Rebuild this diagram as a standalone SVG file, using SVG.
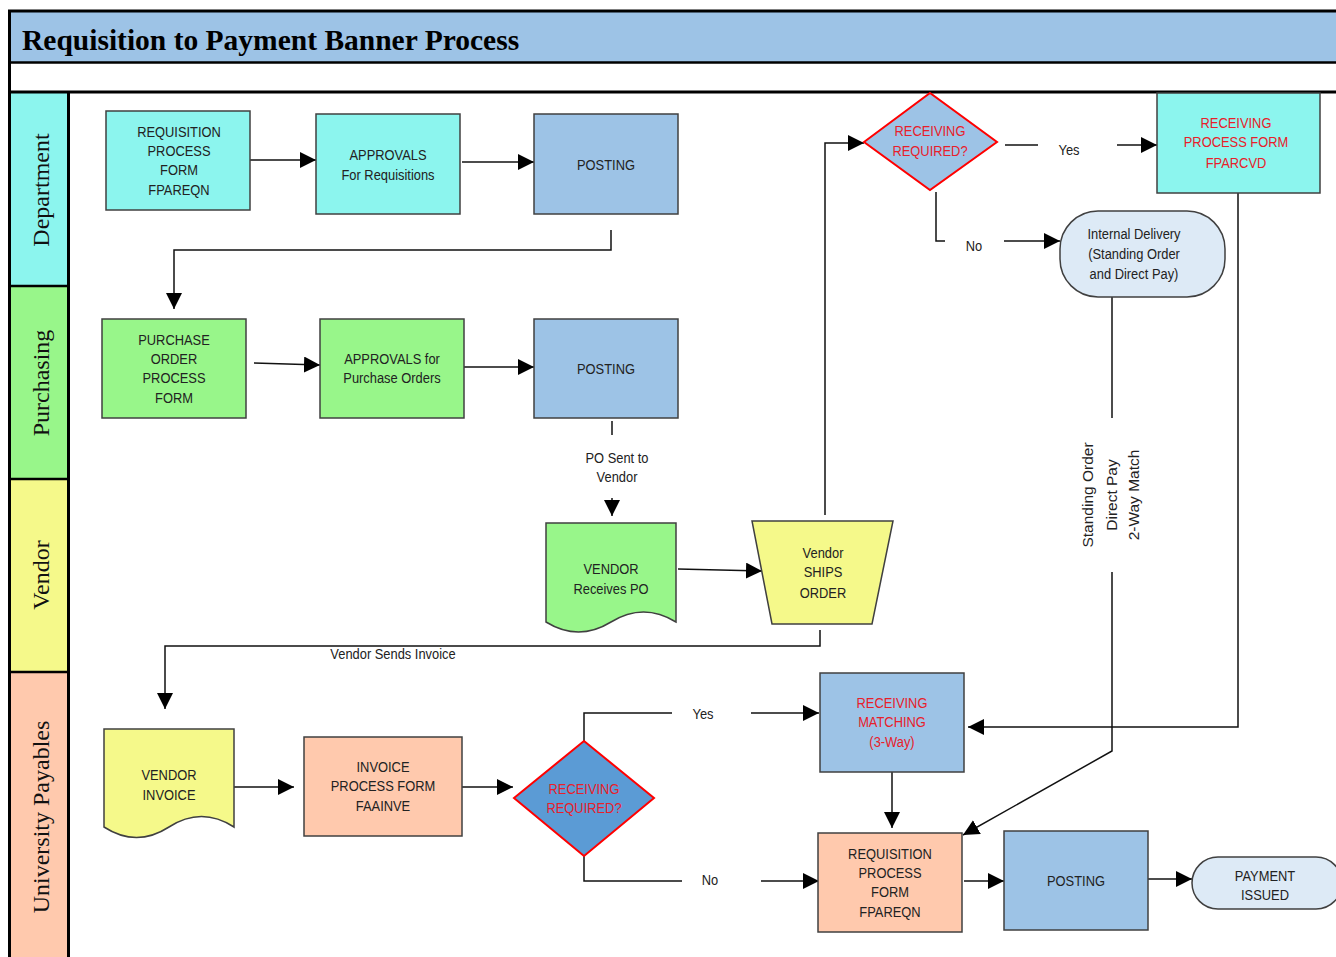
<svg xmlns="http://www.w3.org/2000/svg" width="1336" height="957" viewBox="0 0 1336 957">
<style>
.box{stroke:#404040;stroke-width:1.5}
.cy{fill:#8CF5EE}.bl{fill:#9DC3E6}.gr{fill:#98F68A}.ye{fill:#F5F98A}.pe{fill:#FFC9AD}.lb{fill:#DDEAF6}
.t{font-family:"Liberation Sans",Arial,sans-serif;font-size:15px;fill:#222;text-anchor:middle;transform-box:fill-box;transform-origin:center;transform:scaleX(0.86)}
.rt{font-family:"Liberation Sans",Arial,sans-serif;font-size:15.5px;fill:#222;text-anchor:middle}
.r{fill:#E8202A}
.lane{font-family:"Liberation Serif","Times New Roman",serif;font-size:24px;fill:#111;text-anchor:middle}
.c{fill:none;stroke:#111;stroke-width:1.5}
.frame{stroke:#000;fill:none}
</style>
<defs>
<marker id="ah" viewBox="0 0 10 10" refX="10" refY="5" markerWidth="16" markerHeight="16" markerUnits="userSpaceOnUse" orient="auto">
<path d="M0,0 L10,5 L0,10 Z" fill="#000"/>
</marker>
</defs>
<rect width="1336" height="957" fill="#fff"/>
<g id="frame">
<rect x="10" y="11" width="1330" height="51" fill="#9DC3E6"/>
<rect x="10" y="93" width="58" height="193" fill="#8CF5EE"/>
<rect x="10" y="286" width="58" height="193" fill="#98F68A"/>
<rect x="10" y="479" width="58" height="193" fill="#F5F98A"/>
<rect x="10" y="672" width="58" height="290" fill="#FFC9AD"/>
<line class="frame" x1="8" y1="11" x2="1340" y2="11" stroke-width="3"/>
<line class="frame" x1="9.5" y1="10" x2="9.5" y2="960" stroke-width="3"/>
<line class="frame" x1="8" y1="62.5" x2="1340" y2="62.5" stroke-width="2.5"/>
<line class="frame" x1="8" y1="92" x2="1340" y2="92" stroke-width="3"/>
<line class="frame" x1="68.5" y1="92" x2="68.5" y2="960" stroke-width="3"/>
<line class="frame" x1="9" y1="286" x2="68" y2="286" stroke-width="2.5"/>
<line class="frame" x1="9" y1="479" x2="68" y2="479" stroke-width="2.5"/>
<line class="frame" x1="9" y1="672" x2="68" y2="672" stroke-width="2.5"/>
<text x="22" y="50" font-family="Liberation Serif,'Times New Roman',serif" font-weight="bold" font-size="29.5" fill="#000">Requisition to Payment Banner Process</text>
<text class="lane" transform="translate(49,190) rotate(-90)">Department</text>
<text class="lane" transform="translate(49,383) rotate(-90)">Purchasing</text>
<text class="lane" transform="translate(49,575) rotate(-90)">Vendor</text>
<text class="lane" transform="translate(49,817) rotate(-90)">University Payables</text>
</g>
<g id="connectors">
<line class="c" x1="250" y1="160" x2="316" y2="160" marker-end="url(#ah)"/>
<line class="c" x1="462" y1="162" x2="534" y2="162" marker-end="url(#ah)"/>
<polyline class="c" points="611,230 611,250 174,250 174,309" marker-end="url(#ah)"/>
<line class="c" x1="254" y1="363" x2="320" y2="365" marker-end="url(#ah)"/>
<line class="c" x1="464" y1="367" x2="534" y2="367" marker-end="url(#ah)"/>
<line class="c" x1="612" y1="421" x2="612" y2="435"/>
<line class="c" x1="612" y1="498" x2="612" y2="516" marker-end="url(#ah)"/>
<text class="t" x="617" y="463" font-size="14">PO Sent to</text>
<text class="t" x="617" y="482" font-size="14">Vendor</text>
<line class="c" x1="678" y1="569" x2="762" y2="571" marker-end="url(#ah)"/>
<polyline class="c" points="825,515 825,143 864,143" marker-end="url(#ah)"/>
<line class="c" x1="1005" y1="145" x2="1038" y2="145"/>
<text class="t" x="1069" y="155" font-size="14">Yes</text>
<line class="c" x1="1117" y1="145" x2="1157" y2="145" marker-end="url(#ah)"/>
<polyline class="c" points="936,192 936,241 945,241"/>
<text class="t" x="974" y="251" font-size="14">No</text>
<line class="c" x1="1004" y1="241" x2="1060" y2="241" marker-end="url(#ah)"/>
<polyline class="c" points="1238,193 1238,727 968,727" marker-end="url(#ah)"/>
<line class="c" x1="1112" y1="297" x2="1112" y2="418"/>
<text class="rt" transform="translate(1093,495) rotate(-90)">Standing Order</text>
<text class="rt" transform="translate(1117,495) rotate(-90)">Direct Pay</text>
<text class="rt" transform="translate(1139,495) rotate(-90)">2-Way Match</text>
<polyline class="c" points="1112,572 1112,751 963,835" marker-end="url(#ah)"/>
<polyline class="c" points="820,630 820,646 165,646 165,709" marker-end="url(#ah)"/>
<text class="t" x="393" y="659" font-size="14">Vendor Sends Invoice</text>
<line class="c" x1="234" y1="787" x2="294" y2="787" marker-end="url(#ah)"/>
<line class="c" x1="452" y1="787" x2="513" y2="787" marker-end="url(#ah)"/>
<polyline class="c" points="584,741 584,713 672,713"/>
<text class="t" x="703" y="719" font-size="14">Yes</text>
<line class="c" x1="751" y1="713" x2="819" y2="713" marker-end="url(#ah)"/>
<polyline class="c" points="584,845 584,881 682,881"/>
<text class="t" x="710" y="885" font-size="14">No</text>
<line class="c" x1="761" y1="881" x2="819" y2="881" marker-end="url(#ah)"/>
<line class="c" x1="892" y1="772" x2="892" y2="828" marker-end="url(#ah)"/>
<line class="c" x1="964" y1="881" x2="1004" y2="881" marker-end="url(#ah)"/>
<line class="c" x1="1148" y1="879" x2="1192" y2="879" marker-end="url(#ah)"/>
</g>
<g id="req1">
<rect class="box cy" x="106" y="111" width="144" height="99"/>
<text class="t" x="179" y="137">REQUISITION</text>
<text class="t" x="179" y="156">PROCESS</text>
<text class="t" x="179" y="175">FORM</text>
<text class="t" x="179" y="195">FPAREQN</text>
</g>
<g id="appr1">
<rect class="box cy" x="316" y="114" width="144" height="100"/>
<text class="t" x="388" y="160">APPROVALS</text>
<text class="t" x="388" y="180">For Requisitions</text>
</g>
<g id="post1">
<rect class="box bl" x="534" y="114" width="144" height="100"/>
<text class="t" x="606" y="170">POSTING</text>
</g>
<g id="po">
<rect class="box gr" x="102" y="319" width="144" height="99"/>
<text class="t" x="174" y="345">PURCHASE</text>
<text class="t" x="174" y="364">ORDER</text>
<text class="t" x="174" y="383">PROCESS</text>
<text class="t" x="174" y="403">FORM</text>
</g>
<g id="appr2">
<rect class="box gr" x="320" y="319" width="144" height="99"/>
<text class="t" x="392" y="364">APPROVALS for</text>
<text class="t" x="392" y="383">Purchase Orders</text>
</g>
<g id="post2">
<rect class="box bl" x="534" y="319" width="144" height="99"/>
<text class="t" x="606" y="374">POSTING</text>
</g>
<g id="vendorpo">
<path class="box gr" d="M546,523 H676 V622 Q643.5,602 611,622 T546,622 Z"/>
<text class="t" x="611" y="574">VENDOR</text>
<text class="t" x="611" y="594">Receives PO</text>
</g>
<g id="ships">
<path class="box ye" d="M752,521 H893 L872,624 H772 Z"/>
<text class="t" x="823" y="558">Vendor</text>
<text class="t" x="823" y="577">SHIPS</text>
<text class="t" x="823" y="598">ORDER</text>
</g>
<g id="recv1">
<path d="M864,142 L930,93 L997,142 L930,190 Z" fill="#9DC3E6" stroke="#FF0000" stroke-width="2"/>
<text class="t r" x="930" y="136">RECEIVING</text>
<text class="t r" x="930" y="156">REQUIRED?</text>
</g>
<g id="recvform">
<rect class="box cy" x="1157" y="93" width="163" height="100"/>
<text class="t r" x="1236" y="128">RECEIVING</text>
<text class="t r" x="1236" y="147">PROCESS FORM</text>
<text class="t r" x="1236" y="168">FPARCVD</text>
</g>
<g id="internal">
<rect class="box lb" x="1060" y="211" width="165" height="86" rx="38" ry="38"/>
<text class="t" x="1134" y="239" font-size="14">Internal Delivery</text>
<text class="t" x="1134" y="259" font-size="14">(Standing Order</text>
<text class="t" x="1134" y="279" font-size="14">and Direct Pay)</text>
</g>
<g id="vinvoice">
<path class="box ye" d="M104,729 H234 V827 Q201.5,806 169,827 T104,827 Z"/>
<text class="t" x="169" y="780">VENDOR</text>
<text class="t" x="169" y="800">INVOICE</text>
</g>
<g id="invproc">
<rect class="box pe" x="304" y="737" width="158" height="99"/>
<text class="t" x="383" y="772">INVOICE</text>
<text class="t" x="383" y="791">PROCESS FORM</text>
<text class="t" x="383" y="811">FAAINVE</text>
</g>
<g id="recv2">
<path d="M514,798 L584,741 L654,798 L584,856 Z" fill="#5B9BD5" stroke="#FF0000" stroke-width="2"/>
<text class="t r" x="584" y="794">RECEIVING</text>
<text class="t r" x="584" y="813">REQUIRED?</text>
</g>
<g id="matching">
<rect class="box bl" x="820" y="673" width="144" height="99"/>
<text class="t r" x="892" y="708">RECEIVING</text>
<text class="t r" x="892" y="727">MATCHING</text>
<text class="t r" x="892" y="747">(3-Way)</text>
</g>
<g id="req2">
<rect class="box pe" x="818" y="833" width="144" height="99"/>
<text class="t" x="890" y="859">REQUISITION</text>
<text class="t" x="890" y="878">PROCESS</text>
<text class="t" x="890" y="897">FORM</text>
<text class="t" x="890" y="917">FPAREQN</text>
</g>
<g id="post3">
<rect class="box bl" x="1004" y="831" width="144" height="99"/>
<text class="t" x="1076" y="886">POSTING</text>
</g>
<g id="payment">
<rect class="box lb" x="1192" y="857" width="150" height="52" rx="26" ry="26"/>
<text class="t" x="1265" y="881">PAYMENT</text>
<text class="t" x="1265" y="900">ISSUED</text>
</g>
</svg>
